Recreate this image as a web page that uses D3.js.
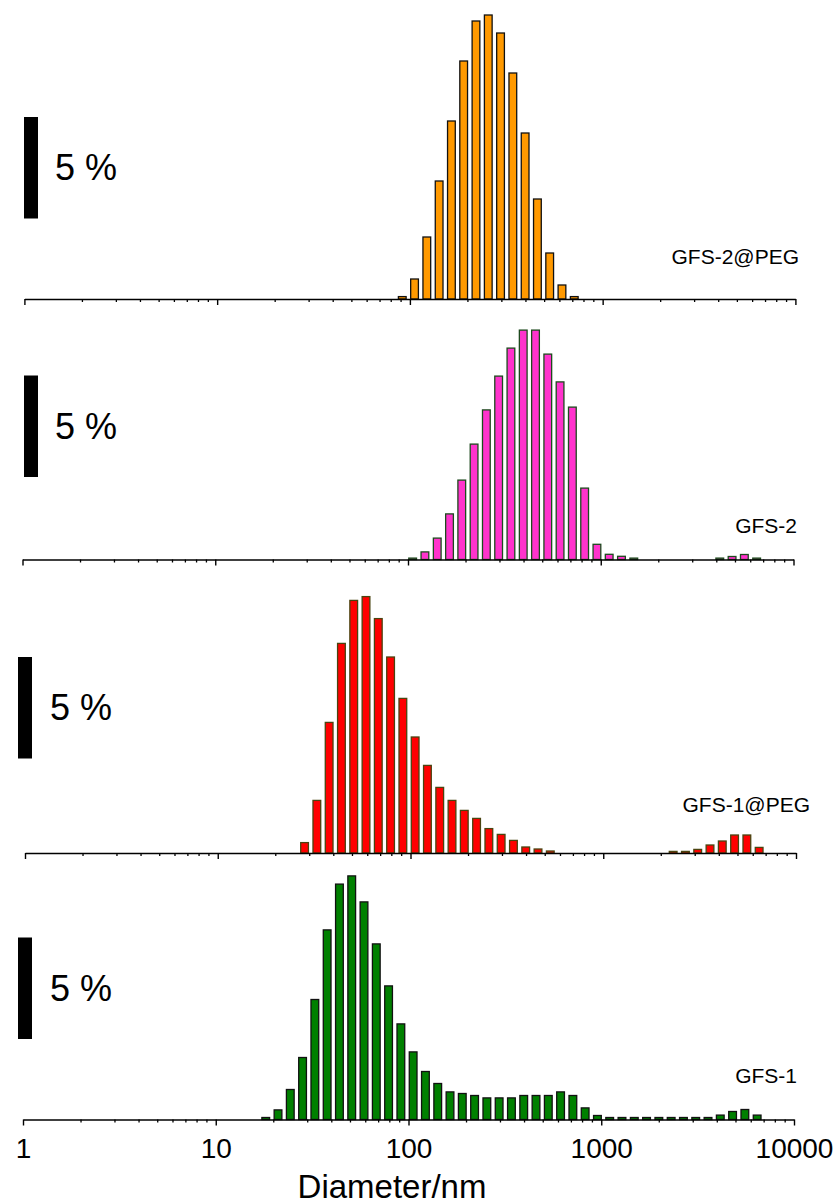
<!DOCTYPE html>
<html>
<head>
<meta charset="utf-8">
<script src="https://cdn.jsdelivr.net/npm/d3@7"></script>
<style>
  html, body { margin: 0; padding: 0; background: #fff; }
  svg { display: block; }
  text { font-family: "Liberation Sans", Arial, Helvetica, sans-serif; fill: #000; }
</style>
</head>
<body>
<svg id="chart" width="839" height="1204"></svg>
<script>
// ---- Data ----
const binSizes = [18.17, 21.04, 24.36, 28.21, 32.67, 37.84, 43.82, 50.75, 58.77, 68.06,
  78.82, 91.28, 105.7, 122.4, 141.8, 164.2, 190.1, 220.2, 255.0, 295.3,
  342.0, 396.1, 458.7, 531.2, 615.1, 712.4, 825.0, 955.4, 1106, 1281,
  1484, 1718, 1990, 2305, 2669, 3091, 3580, 4145, 4801, 5560, 6439, 7456];

const sampleNames = ["GFS-2@PEG", "GFS-2", "GFS-1@PEG", "GFS-1"];

const gfs2pegValues = [0,0,0,0,0,0,0,0,0,0,0,
  0.12,1.0,3.1,5.9,8.9,11.9,13.9,14.2,13.3,11.3,8.3,5.0,2.3,0.7,0.12,
  0,0,0,0,0,0,0,0,0,0,0,0,0,0,0,0];

const gfs2Values = [0,0,0,0,0,0,0,0,0,0,0,0,
  0.07,0.38,1.07,2.28,3.97,5.77,7.48,9.17,10.57,11.47,11.47,10.27,8.88,7.62,3.57,0.76,0.26,0.16,0.07,
  0,0,0,0,0,0,
  0.07,0.15,0.25,0.07,
  0];

const gfs1pegValues = [0,0,0,
  0.52,2.63,6.53,10.48,12.63,12.82,11.72,9.8,7.73,5.8,4.38,3.28,2.63,2.13,1.73,1.22,0.93,0.63,0.3,0.2,0.1,
  0,0,0,0,0,0,0,0,0,
  0.08,0.08,0.18,0.4,0.6,0.9,0.9,0.28,
  0];

const gfs1Values = [0.1,0.48,1.5,3.1,6.0,9.48,11.77,12.18,10.88,8.78,6.68,4.78,3.38,2.4,1.8,1.38,1.3,1.2,1.08,1.08,1.08,1.2,1.2,1.2,1.38,1.2,0.58,0.2,
  0.1,0.1,0.1,0.1,0.1,0.1,0.1,0.1,0.1,
  0.22,0.4,0.5,0.22,
  0];

const xTickValues = [1, 10, 100, 1000, 10000];
const xTickLabels = ["1", "10", "100", "1000", "10000"];
const scaleBarValue = 5;       // percent
const scaleBarLabel = "5 %";
const xAxisTitle = "Diameter/nm";

// ---- Layout / style (kept separate from data) ----
const panels = [
  { name: sampleNames[0], values: gfs2pegValues, base: 299,    shift: 1.4,  fill: "#FF9900", stroke: "#111111",
    barX: 24, barBottom: 4.1, labelX: 799, labelY: 264, textX: 55 },
  { name: sampleNames[1], values: gfs2Values,    base: 559.5,  shift: -0.5, fill: "#FF33CC", stroke: "#1d4a1d",
    barX: 24, barBottom: 4.2, labelX: 797, labelY: 533, textX: 55 },
  { name: sampleNames[2], values: gfs1pegValues, base: 853,    shift: 2,    fill: "#FF0000", stroke: "#4a4410",
    barX: 18, barBottom: 4.8, labelX: 810, labelY: 812, textX: 50 },
  { name: sampleNames[3], values: gfs1Values,    base: 1119.5, shift: 0,    fill: "#008000", stroke: "#111111",
    barX: 18, barBottom: 4.1, labelX: 797, labelY: 1083, textX: 50 }
];

const svg = d3.select("#chart");
const pxPerPercent = 20;

panels.forEach((p, pi) => {
  const x = d3.scaleLog().domain([1, 10000]).range([23 + p.shift, 794 + p.shift]);
  const y = d3.scaleLinear().domain([0, 15]).range([p.base, p.base - 15 * pxPerPercent]);
  const g = svg.append("g");

  // bars
  const data = binSizes.map((s, i) => ({ size: s, v: p.values[i] })).filter(d => d.v > 0);
  const step = x(binSizes[1]) - x(binSizes[0]);
  const bw = step * 0.63;
  g.selectAll("rect.bar").data(data).enter().append("rect")
    .attr("class", "bar")
    .attr("x", d => x(d.size) - bw / 2)
    .attr("width", bw)
    .attr("y", d => y(d.v))
    .attr("height", d => y(0) - y(d.v))
    .attr("fill", p.fill)
    .attr("stroke", p.stroke)
    .attr("stroke-width", 1.3);

  // axis
  const isBottom = pi === panels.length - 1;
  const axis = d3.axisBottom(x)
    .tickValues(xTickValues)
    .tickSize(6)
    .tickSizeOuter(0)
    .tickFormat((d, i) => isBottom ? xTickLabels[i] : "");
  const ag = g.append("g").attr("transform", `translate(0,${p.base})`).call(axis);
  ag.select(".domain").attr("stroke", "#000").attr("stroke-width", 1.4);
  ag.selectAll(".tick line").attr("stroke", "#000").attr("stroke-width", 1.4);
  ag.selectAll(".tick text").attr("font-size", 28).attr("dy", 0).attr("y", 38.5)
    .attr("font-family", "Liberation Sans, Arial, sans-serif").attr("fill", "#000");

  // minor ticks
  const minor = [];
  for (let dec = 1; dec < 10000; dec *= 10) {
    for (let m = 2; m <= 9; m++) minor.push(dec * m);
  }
  ag.selectAll("line.minor").data(minor).enter().append("line")
    .attr("class", "minor")
    .attr("x1", d => x(d)).attr("x2", d => x(d))
    .attr("y1", 0).attr("y2", 3)
    .attr("stroke", "#000").attr("stroke-width", 1.3);

  // sample label
  g.append("text")
    .attr("x", p.labelX).attr("y", p.labelY)
    .attr("text-anchor", "end")
    .attr("font-size", 21)
    .text(p.name);

  // scale bar (5 %)
  g.append("rect")
    .attr("x", p.barX)
    .attr("width", 14)
    .attr("y", y(p.barBottom + scaleBarValue))
    .attr("height", y(p.barBottom) - y(p.barBottom + scaleBarValue) + 1.5)
    .attr("fill", "#000");
  const midY = (y(p.barBottom) + y(p.barBottom + scaleBarValue)) / 2;
  g.append("text")
    .attr("x", p.textX).attr("y", midY + 13)
    .attr("font-size", 36)
    .text(scaleBarLabel);
});

svg.append("text")
  .attr("x", 392).attr("y", 1198)
  .attr("text-anchor", "middle")
  .attr("font-size", 33)
  .text(xAxisTitle);
</script>
</body>
</html>
